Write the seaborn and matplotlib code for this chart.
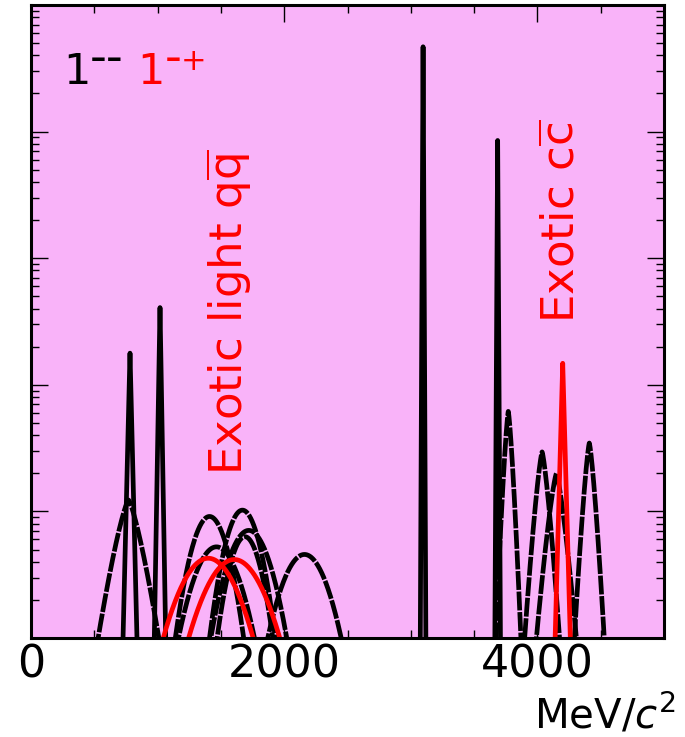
import numpy as np
import pandas as pd
import matplotlib
matplotlib.use("Agg")
import matplotlib.pyplot as plt
import seaborn as sns
from matplotlib.ticker import FixedLocator, MultipleLocator, LogLocator, NullFormatter

# ---- data ----
# 1-- states (black): mass [MeV], peak height (decades above axis bottom),
# half base width [MeV], peak sharpness (2 = rounded, 1 = pointed)
names_1mm = ["rho(770)", "omega(782)", "phi(1020)", "omega(1420)", "rho(1450)",
             "omega(1650)", "phi(1680)", "rho(1700)", "phi(2170)", "J/psi",
             "psi(2S)", "psi(3770)", "psi(4040)", "psi(4160)", "psi(4415)"]
mass_1mm = [770, 782, 1019, 1410, 1465, 1670, 1690, 1720, 2160, 3097, 3686, 3770, 4037, 4150, 4410]
logpeak_1mm = [1.09, 2.25, 2.61, 0.96, 0.72, 1.01, 0.80, 0.85, 0.66, 4.67, 3.93, 1.79, 1.47, 1.30, 1.54]
halfbase_1mm = [240, 55, 45, 270, 300, 260, 220, 300, 290, 22, 22, 100, 138, 158, 118]
sharp_1mm = [1.3, 1.0, 1.0, 2.0, 2.0, 2.0, 2.0, 2.0, 2.0, 1.0, 1.0, 1.3, 1.3, 1.3, 1.3]

# 1-+ states (red)
names_1mp = ["pi1(1400)", "pi1(1600)", "X(4200)"]
mass_1mp = [1400, 1605, 4200]
logpeak_1mp = [0.63, 0.62, 2.17]
halfbase_1mp = [355, 360, 60]
sharp_1mp = [2.0, 2.0, 1.0]

xticks_major = [0, 2000, 4000]
xtick_labels = ["0", "2000", "4000"]

# ---- build long table ----
rows = []
for grp, names, ms, hs, ws, ps in (("1--", names_1mm, mass_1mm, logpeak_1mm, halfbase_1mm, sharp_1mm),
                                   ("1-+", names_1mp, mass_1mp, logpeak_1mp, halfbase_1mp, sharp_1mp)):
    for n, m, h, w, p in zip(names, ms, hs, ws, ps):
        xs = np.linspace(m - 1.08 * w, m + 1.08 * w, 401)
        ys = 10 ** (h * (1 - np.abs((xs - m) / w) ** p))
        for xv, yv in zip(xs, ys):
            rows.append((grp, n, m, w, xv, yv))
df = pd.DataFrame(rows, columns=["group", "state", "mass", "hw", "x", "y"])

sns.set_theme(style="ticks")
plt.rcParams["font.family"] = ["DejaVu Sans"]
plt.rcParams["mathtext.fontset"] = "dejavusans"

W, H = 685, 737
fig = plt.figure(figsize=(W / 100, H / 100), dpi=100)
ax = fig.add_axes([31 / W, 1 - 638 / H, 633 / W, 633 / H])
ax.set_facecolor("#F9B3F9")

for n in names_1mm + names_1mp:
    d = df[df.state == n]
    red = d.group.iloc[0] == "1-+"
    narrow = d.hw.iloc[0] < 80
    kw = dict(color="red" if red else "black", lw=3.4, ax=ax, legend=False)
    if not red and not narrow:
        kw["linestyle"] = (0, (4.0, 0.35))
    sns.lineplot(data=d, x="x", y="y", sort=False, **kw)

ax.set_yscale("log")
ax.set_xlim(0, 5000)
ax.set_ylim(1, 1e5)
ax.set_xlabel("")
ax.set_ylabel("")

ax.xaxis.set_major_locator(FixedLocator(xticks_major))
ax.set_xticklabels(xtick_labels)
ax.xaxis.set_minor_locator(MultipleLocator(500))
ax.yaxis.set_major_locator(LogLocator(base=10, numticks=10))
ax.yaxis.set_minor_locator(LogLocator(base=10, subs=np.arange(2, 10), numticks=50))
ax.yaxis.set_major_formatter(NullFormatter())
ax.yaxis.set_minor_formatter(NullFormatter())

ax.tick_params(which="both", direction="in", top=True, right=True, color="black", labelcolor="black")
ax.tick_params(which="major", length=12, width=1.0)
ax.tick_params(which="minor", length=6, width=1.0)
ax.tick_params(axis="x", which="major", labelsize=32, pad=4)
for s in ax.spines.values():
    s.set_linewidth(2.2)
    s.set_color("black")

def px(x, y):
    return x / W, 1 - y / H

# legend-like labels
fig.text(*px(63, 84), "1", color="black", fontsize=31, ha="left", va="baseline")
fig.text(*px(90, 72), "--", color="black", fontsize=34, ha="left", va="baseline")
fig.text(*px(137, 84), "1", color="red", fontsize=31, ha="left", va="baseline")
fig.text(*px(165, 72), "-", color="red", fontsize=34, ha="left", va="baseline")
fig.text(*px(181, 70), "+", color="red", fontsize=22, ha="left", va="baseline")

fig.text(*px(229, 312), r"Exotic light q$\mathregular{\overline{q}}$", color="red", fontsize=32.5,
         rotation=90, ha="center", va="center")
fig.text(*px(562, 221), r"Exotic c$\mathregular{\overline{c}}$", color="red", fontsize=32.5,
         rotation=90, ha="center", va="center")

fig.text(*px(676, 729), r"MeV/$c^{2}$", color="black", fontsize=29, ha="right", va="baseline")

fig.savefig("out.png", dpi=100)
